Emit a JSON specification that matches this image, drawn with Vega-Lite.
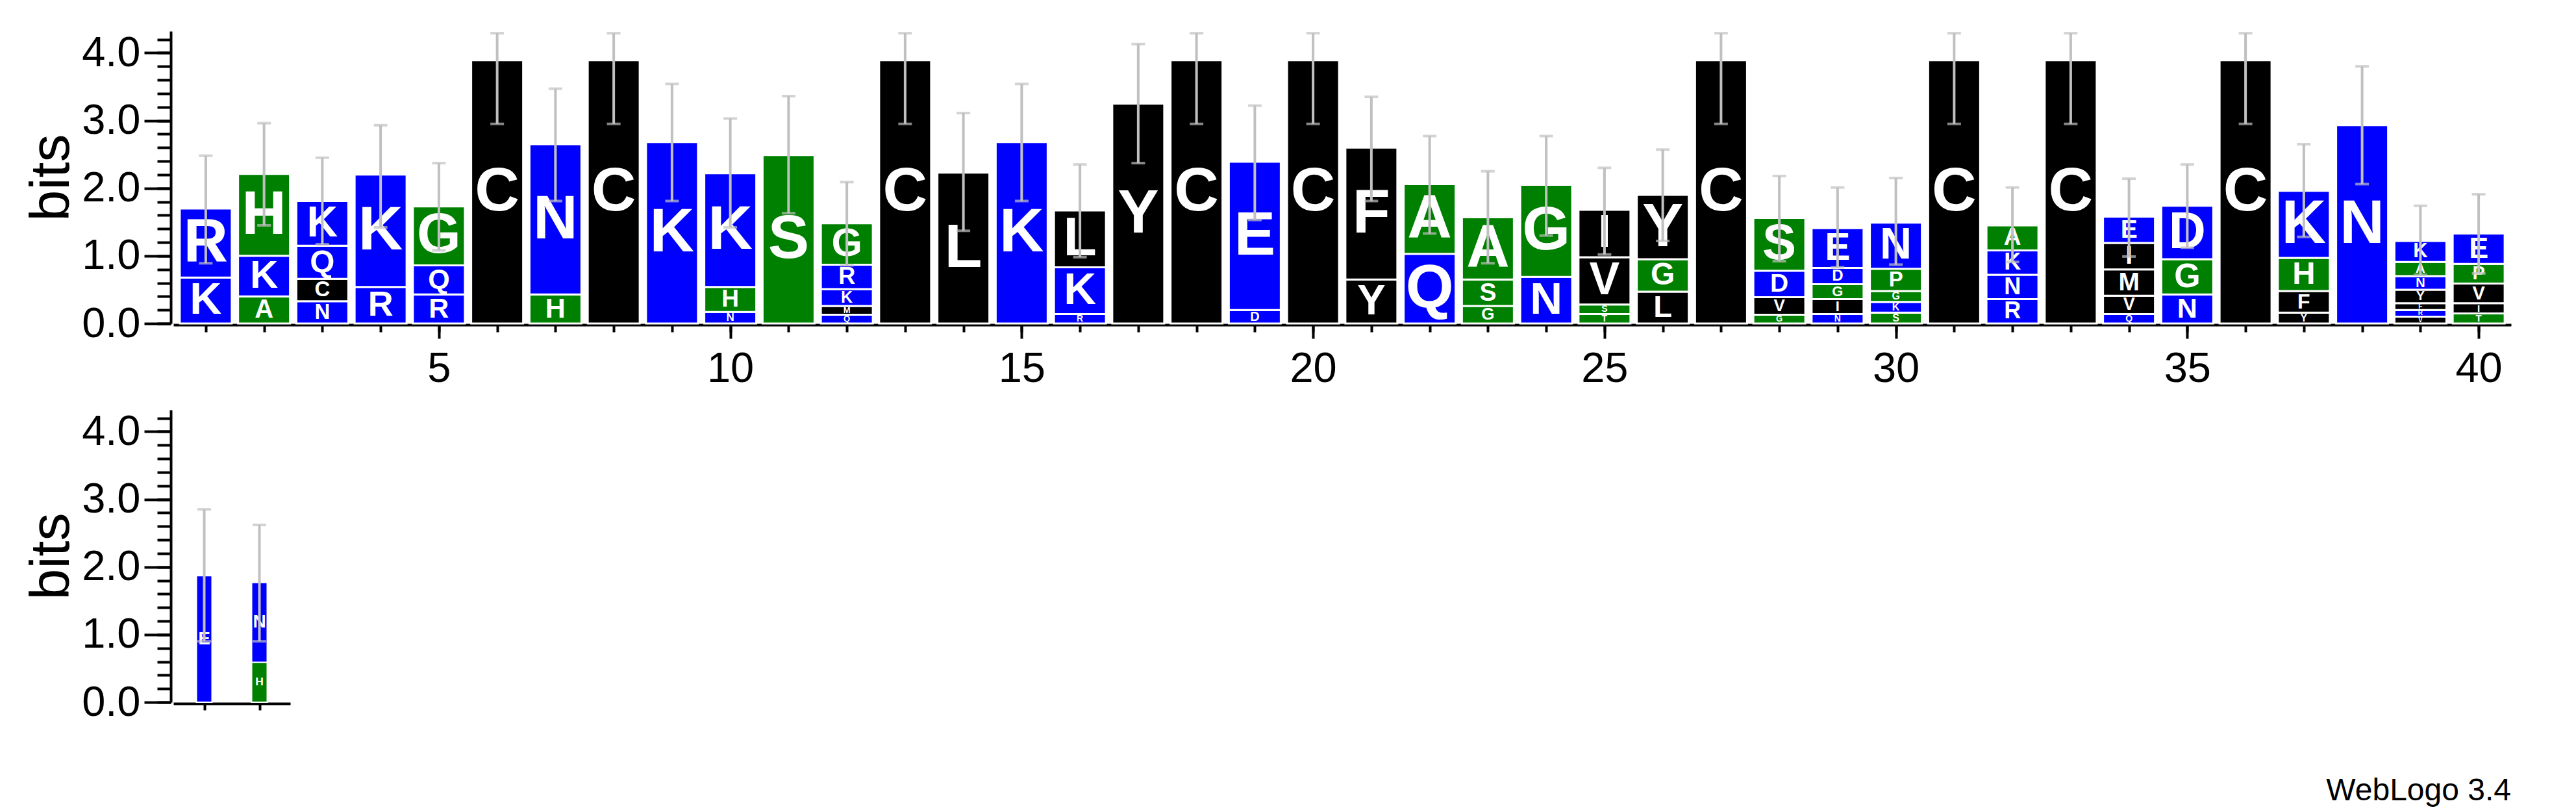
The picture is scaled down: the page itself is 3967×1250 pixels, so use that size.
{
  "$schema": "https://vega.github.io/schema/vega-lite/v6.json",
  "background": "white",
  "padding": {"left": 36, "top": 48, "right": 10, "bottom": 5},
  "bounds": "flush",
  "spacing": 133,
  "title": {"text": "WebLogo 3.4", "orient": "bottom", "anchor": "end", "fontSize": 48, "font": "Liberation Sans", "fontWeight": "normal", "offset": 80, "color": "black"},
  "config": {
    "view": {"stroke": null},
    "axis": {"grid": false, "domainColor": "black", "tickColor": "black", "labelColor": "black", "titleColor": "black", "labelFont": "Liberation Sans", "titleFont": "Liberation Sans", "domainWidth": 4, "tickWidth": 4, "labelFontSize": 65, "titleFontSize": 86, "titleFontWeight": "normal", "labelFlush": false, "labelOverlap": false}
  },
  "datasets": {
    "top": [
      {"pos": 1, "letter": "K", "bits": 0.68}, {"pos": 1, "letter": "R", "bits": 1.02},
      {"pos": 2, "letter": "A", "bits": 0.40}, {"pos": 2, "letter": "K", "bits": 0.60}, {"pos": 2, "letter": "H", "bits": 1.21},
      {"pos": 3, "letter": "N", "bits": 0.33}, {"pos": 3, "letter": "C", "bits": 0.33}, {"pos": 3, "letter": "Q", "bits": 0.49}, {"pos": 3, "letter": "K", "bits": 0.66},
      {"pos": 4, "letter": "R", "bits": 0.54}, {"pos": 4, "letter": "K", "bits": 1.66},
      {"pos": 5, "letter": "R", "bits": 0.43}, {"pos": 5, "letter": "Q", "bits": 0.43}, {"pos": 5, "letter": "G", "bits": 0.87},
      {"pos": 6, "letter": "C", "bits": 3.89},
      {"pos": 7, "letter": "H", "bits": 0.43}, {"pos": 7, "letter": "N", "bits": 2.22},
      {"pos": 8, "letter": "C", "bits": 3.89},
      {"pos": 9, "letter": "K", "bits": 2.68},
      {"pos": 10, "letter": "N", "bits": 0.17}, {"pos": 10, "letter": "H", "bits": 0.37}, {"pos": 10, "letter": "K", "bits": 1.68},
      {"pos": 11, "letter": "S", "bits": 2.49},
      {"pos": 12, "letter": "Q", "bits": 0.13}, {"pos": 12, "letter": "M", "bits": 0.13}, {"pos": 12, "letter": "K", "bits": 0.25}, {"pos": 12, "letter": "R", "bits": 0.36}, {"pos": 12, "letter": "G", "bits": 0.61},
      {"pos": 13, "letter": "C", "bits": 3.89},
      {"pos": 14, "letter": "L", "bits": 2.23},
      {"pos": 15, "letter": "K", "bits": 2.68},
      {"pos": 16, "letter": "R", "bits": 0.14}, {"pos": 16, "letter": "K", "bits": 0.69}, {"pos": 16, "letter": "L", "bits": 0.84},
      {"pos": 17, "letter": "Y", "bits": 3.25},
      {"pos": 18, "letter": "C", "bits": 3.89},
      {"pos": 19, "letter": "D", "bits": 0.20}, {"pos": 19, "letter": "E", "bits": 2.19},
      {"pos": 20, "letter": "C", "bits": 3.89},
      {"pos": 21, "letter": "Y", "bits": 0.65}, {"pos": 21, "letter": "F", "bits": 1.95},
      {"pos": 22, "letter": "Q", "bits": 1.03}, {"pos": 22, "letter": "A", "bits": 1.03},
      {"pos": 23, "letter": "G", "bits": 0.26}, {"pos": 23, "letter": "S", "bits": 0.39}, {"pos": 23, "letter": "A", "bits": 0.92},
      {"pos": 24, "letter": "N", "bits": 0.69}, {"pos": 24, "letter": "G", "bits": 1.36},
      {"pos": 25, "letter": "T", "bits": 0.14}, {"pos": 25, "letter": "S", "bits": 0.14}, {"pos": 25, "letter": "V", "bits": 0.70}, {"pos": 25, "letter": "I", "bits": 0.70},
      {"pos": 26, "letter": "L", "bits": 0.47}, {"pos": 26, "letter": "G", "bits": 0.48}, {"pos": 26, "letter": "Y", "bits": 0.95},
      {"pos": 27, "letter": "C", "bits": 3.89},
      {"pos": 28, "letter": "G", "bits": 0.13}, {"pos": 28, "letter": "V", "bits": 0.26}, {"pos": 28, "letter": "D", "bits": 0.39}, {"pos": 28, "letter": "S", "bits": 0.78},
      {"pos": 29, "letter": "N", "bits": 0.14}, {"pos": 29, "letter": "I", "bits": 0.22}, {"pos": 29, "letter": "G", "bits": 0.22}, {"pos": 29, "letter": "D", "bits": 0.24}, {"pos": 29, "letter": "E", "bits": 0.59},
      {"pos": 30, "letter": "S", "bits": 0.16}, {"pos": 30, "letter": "K", "bits": 0.16}, {"pos": 30, "letter": "G", "bits": 0.16}, {"pos": 30, "letter": "P", "bits": 0.33}, {"pos": 30, "letter": "N", "bits": 0.68},
      {"pos": 31, "letter": "C", "bits": 3.89},
      {"pos": 32, "letter": "R", "bits": 0.36}, {"pos": 32, "letter": "N", "bits": 0.36}, {"pos": 32, "letter": "K", "bits": 0.36}, {"pos": 32, "letter": "A", "bits": 0.37},
      {"pos": 33, "letter": "C", "bits": 3.89},
      {"pos": 34, "letter": "Q", "bits": 0.14}, {"pos": 34, "letter": "V", "bits": 0.27}, {"pos": 34, "letter": "M", "bits": 0.39}, {"pos": 34, "letter": "I", "bits": 0.39}, {"pos": 34, "letter": "E", "bits": 0.39},
      {"pos": 35, "letter": "N", "bits": 0.43}, {"pos": 35, "letter": "G", "bits": 0.52}, {"pos": 35, "letter": "D", "bits": 0.79},
      {"pos": 36, "letter": "C", "bits": 3.89},
      {"pos": 37, "letter": "Y", "bits": 0.16}, {"pos": 37, "letter": "F", "bits": 0.32}, {"pos": 37, "letter": "H", "bits": 0.49}, {"pos": 37, "letter": "K", "bits": 0.99},
      {"pos": 38, "letter": "N", "bits": 2.93},
      {"pos": 39, "letter": "V", "bits": 0.10}, {"pos": 39, "letter": "R", "bits": 0.10}, {"pos": 39, "letter": "F", "bits": 0.10}, {"pos": 39, "letter": "Y", "bits": 0.20}, {"pos": 39, "letter": "N", "bits": 0.20}, {"pos": 39, "letter": "A", "bits": 0.21}, {"pos": 39, "letter": "K", "bits": 0.31},
      {"pos": 40, "letter": "T", "bits": 0.15}, {"pos": 40, "letter": "I", "bits": 0.15}, {"pos": 40, "letter": "V", "bits": 0.29}, {"pos": 40, "letter": "P", "bits": 0.29}, {"pos": 40, "letter": "E", "bits": 0.45}
    ],
    "topErr": [
      {"pos": 1, "lo": 0.89, "hi": 2.48}, {"pos": 2, "lo": 1.45, "hi": 2.96}, {"pos": 3, "lo": 1.17, "hi": 2.45}, {"pos": 4, "lo": 1.42, "hi": 2.93},
      {"pos": 5, "lo": 1.08, "hi": 2.37}, {"pos": 6, "lo": 2.95, "hi": 4.29}, {"pos": 7, "lo": 1.81, "hi": 3.47}, {"pos": 8, "lo": 2.95, "hi": 4.29},
      {"pos": 9, "lo": 1.81, "hi": 3.54}, {"pos": 10, "lo": 1.42, "hi": 3.03}, {"pos": 11, "lo": 1.63, "hi": 3.36}, {"pos": 12, "lo": 0.86, "hi": 2.09},
      {"pos": 13, "lo": 2.95, "hi": 4.29}, {"pos": 14, "lo": 1.37, "hi": 3.11}, {"pos": 15, "lo": 1.81, "hi": 3.54}, {"pos": 16, "lo": 0.98, "hi": 2.35},
      {"pos": 17, "lo": 2.37, "hi": 4.13}, {"pos": 18, "lo": 2.95, "hi": 4.29}, {"pos": 19, "lo": 1.53, "hi": 3.22}, {"pos": 20, "lo": 2.95, "hi": 4.29},
      {"pos": 21, "lo": 1.81, "hi": 3.35}, {"pos": 22, "lo": 1.33, "hi": 2.77}, {"pos": 23, "lo": 0.89, "hi": 2.25}, {"pos": 24, "lo": 1.30, "hi": 2.77},
      {"pos": 25, "lo": 1.02, "hi": 2.30}, {"pos": 26, "lo": 1.22, "hi": 2.57}, {"pos": 27, "lo": 2.95, "hi": 4.29}, {"pos": 28, "lo": 0.92, "hi": 2.18},
      {"pos": 29, "lo": 0.83, "hi": 2.01}, {"pos": 30, "lo": 0.87, "hi": 2.15}, {"pos": 31, "lo": 2.95, "hi": 4.29}, {"pos": 32, "lo": 0.91, "hi": 2.01},
      {"pos": 33, "lo": 2.95, "hi": 4.29}, {"pos": 34, "lo": 0.99, "hi": 2.14}, {"pos": 35, "lo": 1.12, "hi": 2.35}, {"pos": 36, "lo": 2.95, "hi": 4.29},
      {"pos": 37, "lo": 1.28, "hi": 2.65}, {"pos": 38, "lo": 2.06, "hi": 3.80}, {"pos": 39, "lo": 0.72, "hi": 1.74}, {"pos": 40, "lo": 0.74, "hi": 1.91}
    ],
    "bot": [
      {"pos": 1, "letter": "E", "bits": 1.87},
      {"pos": 2, "letter": "H", "bits": 0.59}, {"pos": 2, "letter": "N", "bits": 1.18}
    ],
    "botErr": [
      {"pos": 1, "lo": 0.90, "hi": 2.85}, {"pos": 2, "lo": 0.90, "hi": 2.62}
    ]
  },
  "resolve": {"scale": {"x": "independent", "y": "independent", "size": "independent", "color": "shared"}},
  "vconcat": [
    {
      "width": 3600,
      "height": 450,
      "resolve": {"axis": {"x": "independent", "y": "independent"}},
      "layer": [
        {
          "data": {"name": "top"},
          "mark": {"type": "bar", "width": 80, "stroke": "white", "strokeWidth": 3},
          "encoding": {
            "x": {"field": "pos", "type": "quantitative", "scale": {"domain": [0.5, 40.5], "nice": false, "zero": false},
                  "axis": {"orient": "bottom", "values": [5, 10, 15, 20, 25, 30, 35, 40], "format": "d", "tickSize": 21, "labelPadding": 15, "title": null, "offset": 2}},
            "y": {"field": "bits", "type": "quantitative", "stack": "zero", "scale": {"domain": [0, 4.32], "nice": false},
                  "axis": {"orient": "left", "values": [0, 1, 2, 3, 4], "format": ".1f", "tickSize": 41, "labelPadding": 6, "title": "bits", "titlePadding": 2, "offset": 4}},
            "order": {"field": "bits", "sort": "ascending"},
            "color": {"field": "letter", "type": "nominal", "legend": null,
                      "scale": {"domain": ["R", "K", "D", "E", "N", "Q", "S", "G", "H", "T", "A", "P", "Y", "V", "M", "C", "L", "F", "I", "W"],
                                "range": ["#0000ff", "#0000ff", "#0000ff", "#0000ff", "#0000ff", "#0000ff", "#008000", "#008000", "#008000", "#008000", "#008000", "#008000", "#000000", "#000000", "#000000", "#000000", "#000000", "#000000", "#000000", "#000000"]}}
          }
        },
        {
          "data": {"name": "top"},
          "mark": {"type": "text", "color": "white", "font": "Liberation Sans", "fontWeight": "bold", "baseline": "middle", "align": "center"},
          "encoding": {
            "x": {"field": "pos", "type": "quantitative",
                  "axis": {"orient": "bottom", "values": [1,2,3,4,5,6,7,8,9,10,11,12,13,14,15,16,17,18,19,20,21,22,23,24,25,26,27,28,29,30,31,32,33,34,35,36,37,38,39,40], "tickSize": 11, "labels": false, "domain": false, "title": null, "offset": 2}},
            "y": {"field": "bits", "type": "quantitative", "stack": "zero", "bandPosition": 0.5,
                  "axis": {"orient": "left", "values": [0,0.2,0.4,0.6,0.8,1,1.2,1.4,1.6,1.8,2,2.2,2.4,2.6,2.8,3,3.2,3.4,3.6,3.8,4,4.2], "tickSize": 21, "labels": false, "domain": false, "title": null, "offset": 4}},
            "order": {"field": "bits", "sort": "ascending"},
            "text": {"field": "letter"},
            "size": {"field": "bits", "type": "quantitative", "legend": null, "scale": {"domain": [0, 0.95], "range": [0, 95], "clamp": true}}
          }
        },
        {
          "data": {"name": "topErr"},
          "mark": {"type": "rule", "color": "#c0c0c0", "strokeWidth": 4},
          "encoding": {
            "x": {"field": "pos", "type": "quantitative", "axis": null},
            "y": {"field": "lo", "type": "quantitative", "axis": null},
            "y2": {"field": "hi"}
          }
        },
        {
          "data": {"name": "topErr"},
          "mark": {"type": "tick", "orient": "horizontal", "color": "#c0c0c0", "size": 21, "thickness": 4},
          "encoding": {
            "x": {"field": "pos", "type": "quantitative", "axis": null},
            "y": {"field": "lo", "type": "quantitative", "axis": null}
          }
        },
        {
          "data": {"name": "topErr"},
          "mark": {"type": "tick", "orient": "horizontal", "color": "#c0c0c0", "size": 21, "thickness": 4},
          "encoding": {
            "x": {"field": "pos", "type": "quantitative", "axis": null},
            "y": {"field": "hi", "type": "quantitative", "axis": null}
          }
        }
      ]
    },
    {
      "width": 180,
      "height": 450,
      "resolve": {"axis": {"x": "independent", "y": "independent"}},
      "layer": [
        {
          "data": {"name": "bot"},
          "mark": {"type": "bar", "width": 24, "stroke": "white", "strokeWidth": 2},
          "encoding": {
            "x": {"field": "pos", "type": "quantitative", "scale": {"domain": [0.5, 2.5], "nice": false, "zero": false},
                  "axis": {"orient": "bottom", "values": [1, 2], "tickSize": 10, "labels": false, "title": null, "offset": 2}},
            "y": {"field": "bits", "type": "quantitative", "stack": "zero", "scale": {"domain": [0, 4.32], "nice": false},
                  "axis": {"orient": "left", "values": [0, 1, 2, 3, 4], "format": ".1f", "tickSize": 41, "labelPadding": 6, "title": "bits", "titlePadding": 2, "offset": 4}},
            "order": {"field": "bits", "sort": "ascending"},
            "color": {"field": "letter", "type": "nominal", "legend": null}
          }
        },
        {
          "data": {"name": "bot"},
          "mark": {"type": "text", "color": "white", "font": "Liberation Sans", "fontWeight": "bold", "baseline": "middle", "align": "center"},
          "encoding": {
            "x": {"field": "pos", "type": "quantitative", "axis": null},
            "y": {"field": "bits", "type": "quantitative", "stack": "zero", "bandPosition": 0.5,
                  "axis": {"orient": "left", "values": [0,0.2,0.4,0.6,0.8,1,1.2,1.4,1.6,1.8,2,2.2,2.4,2.6,2.8,3,3.2,3.4,3.6,3.8,4,4.2], "tickSize": 21, "labels": false, "domain": false, "title": null, "offset": 4}},
            "order": {"field": "bits", "sort": "ascending"},
            "text": {"field": "letter"},
            "size": {"field": "bits", "type": "quantitative", "legend": null, "scale": {"domain": [0, 0.95], "range": [0, 28], "clamp": true}}
          }
        },
        {
          "data": {"name": "botErr"},
          "mark": {"type": "rule", "color": "#c0c0c0", "strokeWidth": 4},
          "encoding": {
            "x": {"field": "pos", "type": "quantitative", "axis": null},
            "y": {"field": "lo", "type": "quantitative", "axis": null},
            "y2": {"field": "hi"}
          }
        },
        {
          "data": {"name": "botErr"},
          "mark": {"type": "tick", "orient": "horizontal", "color": "#c0c0c0", "size": 21, "thickness": 4},
          "encoding": {
            "x": {"field": "pos", "type": "quantitative", "axis": null},
            "y": {"field": "lo", "type": "quantitative", "axis": null}
          }
        },
        {
          "data": {"name": "botErr"},
          "mark": {"type": "tick", "orient": "horizontal", "color": "#c0c0c0", "size": 21, "thickness": 4},
          "encoding": {
            "x": {"field": "pos", "type": "quantitative", "axis": null},
            "y": {"field": "hi", "type": "quantitative", "axis": null}
          }
        }
      ]
    }
  ]
}
